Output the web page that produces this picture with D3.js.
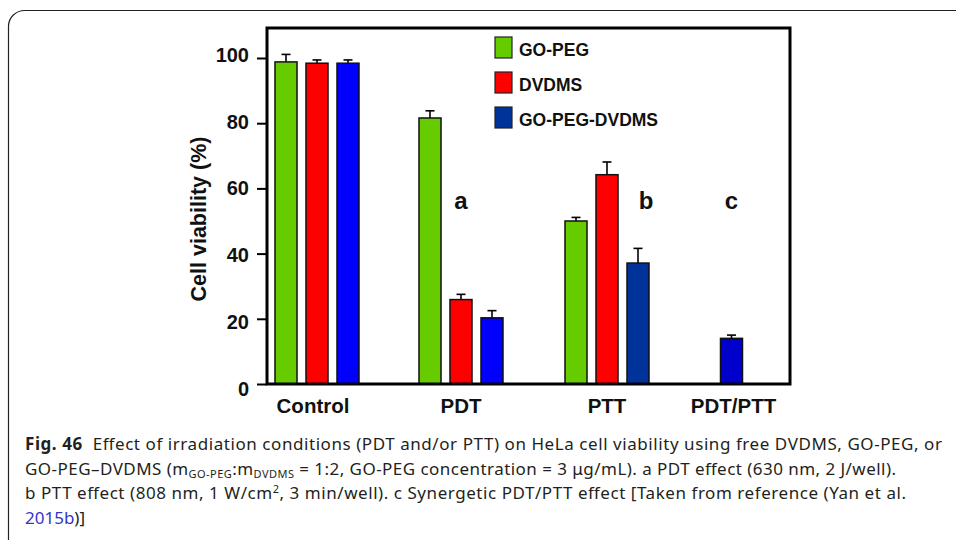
<!DOCTYPE html>
<html>
<head>
<meta charset="utf-8">
<script src="https://cdn.jsdelivr.net/npm/d3@7/dist/d3.min.js"></script>
<style>
  html, body { margin: 0; padding: 0; background: #fff; }
  svg { display: block; }
</style>
</head>
<body>
<svg id="chart" width="956" height="540"></svg>
<script>
// ---------------- data ----------------
const categories = ["Control", "PDT", "PTT", "PDT/PTT"];
const seriesNames = ["GO-PEG", "DVDMS", "GO-PEG-DVDMS"];
const goPegValues = [98.8, 81.6, 50.0, null];
const dvdmsValues = [98.4, 25.9, 64.2, null];
const goPegDvdmsValues = [98.4, 20.3, 37.1, 14.0];
const goPegErrors = [2.3, 2.2, 1.1, null];
const dvdmsErrors = [1.0, 1.6, 3.9, null];
const goPegDvdmsErrors = [1.0, 2.2, 4.5, 1.0];
const yTicks = [0, 20, 40, 60, 80, 100];
const annotationTexts = ["a", "b", "c"];
const annotationCategories = ["PDT", "PTT", "PDT/PTT"];
const yLabel = "Cell viability (%)";

// ---------------- styles ----------------
const seriesColors = ["#66cc00", "#ff0000", "#003399"];
const thirdSeriesShades = ["#0000ff", "#0000ff", "#003399", "#0000cc"];

const svg = d3.select("#chart");
const boldFont = "'Liberation Sans', Arial, sans-serif";

// frame around figure
svg.append("path")
  .attr("d", "M8.5,540 L8.5,26 A16,16 0 0 1 24.5,10.5 L956,10.5")
  .attr("fill", "none").attr("stroke", "#222").attr("stroke-width", 1.2);

const plot = { left: 267, right: 790, top: 28, bottom: 384 };

const y = d3.scaleLinear().domain([0, 109.2]).range([plot.bottom, plot.top]);
const yLab = d3.scaleLinear().domain([0, 100]).range([396, 61.7]);
const xGroup = d3.scaleOrdinal().domain(categories).range([317, 461, 607, 731.5]);
const xInner = d3.scaleBand().domain(seriesNames).range([-42, 42]).paddingInner(0.29).paddingOuter(0);

const series = [
  { name: seriesNames[0], values: goPegValues, errors: goPegErrors },
  { name: seriesNames[1], values: dvdmsValues, errors: dvdmsErrors },
  { name: seriesNames[2], values: goPegDvdmsValues, errors: goPegDvdmsErrors }
];

// bars
const bars = [];
categories.forEach((cat, ci) => {
  const present = series.filter(s => s.values[ci] != null);
  series.forEach((s, si) => {
    const v = s.values[ci];
    if (v == null) return;
    const cx = present.length === 1 ? 0 : xInner(s.name) + xInner.bandwidth() / 2;
    bars.push({
      cat, si, v, err: s.errors[ci],
      x: xGroup(cat) + cx,
      color: si === 2 ? thirdSeriesShades[ci] : seriesColors[si]
    });
  });
});

const bw = xInner.bandwidth();
const gBars = svg.append("g");
// error bars (upper only)
gBars.selectAll("line.err").data(bars).join("line")
  .attr("x1", d => d.x).attr("x2", d => d.x)
  .attr("y1", d => y(d.v)).attr("y2", d => y(d.v + d.err))
  .attr("stroke", "#000").attr("stroke-width", 1.6);
gBars.selectAll("line.cap").data(bars).join("line")
  .attr("x1", d => d.x - 4.5).attr("x2", d => d.x + 4.5)
  .attr("y1", d => y(d.v + d.err)).attr("y2", d => y(d.v + d.err))
  .attr("stroke", "#000").attr("stroke-width", 1.6);
gBars.selectAll("rect").data(bars).join("rect")
  .attr("x", d => d.x - bw / 2).attr("width", bw)
  .attr("y", d => y(d.v)).attr("height", d => y(0) - y(d.v))
  .attr("fill", d => d.color).attr("stroke", "#111").attr("stroke-width", 1.5);

// frame of plot
svg.append("rect")
  .attr("x", plot.left).attr("y", plot.top)
  .attr("width", plot.right - plot.left).attr("height", plot.bottom - plot.top)
  .attr("fill", "none").attr("stroke", "#000").attr("stroke-width", 3);

// y axis ticks
const yAxis = d3.axisLeft(y).tickValues(yTicks).tickSize(10).tickFormat("");
const gy = svg.append("g").attr("transform", `translate(${plot.left},0)`).call(yAxis);
gy.select(".domain").remove();
gy.selectAll(".tick line").attr("stroke", "#000").attr("stroke-width", 2);

svg.append("g").selectAll("text").data(yTicks).join("text")
  .attr("x", 249).attr("y", d => yLab(d))
  .attr("text-anchor", "end")
  .attr("font-family", boldFont).attr("font-weight", "bold").attr("font-size", 20)
  .attr("fill", "#111")
  .text(d => d);

// y title
svg.append("text")
  .attr("transform", "translate(206,219) rotate(-90)")
  .attr("text-anchor", "middle")
  .attr("font-family", boldFont).attr("font-weight", "bold").attr("font-size", 21.5)
  .attr("fill", "#111")
  .text(yLabel);

// category labels
svg.append("g").selectAll("text").data(categories).join("text")
  .attr("x", d => xGroup(d) + (d === "Control" ? -4 : d === "PDT/PTT" ? 2 : 0))
  .attr("y", 413)
  .attr("text-anchor", "middle")
  .attr("font-family", boldFont).attr("font-weight", "bold").attr("font-size", 20.5)
  .attr("fill", "#111")
  .text(d => d);

// annotation letters
svg.append("g").selectAll("text").data(annotationTexts).join("text")
  .attr("x", (d, i) => {
    const cat = annotationCategories[i];
    return xGroup(cat) + (d === "b" ? 39 : 0);
  })
  .attr("y", y(53.6))
  .attr("text-anchor", "middle")
  .attr("font-family", boldFont).attr("font-weight", "bold").attr("font-size", 24)
  .attr("fill", "#111")
  .text(d => d);

// legend
const legend = svg.append("g").attr("transform", "translate(495,37)");
const legendColors = seriesColors;
const lg = legend.selectAll("g").data(seriesNames).join("g")
  .attr("transform", (d, i) => `translate(0,${i * 35})`);
lg.append("rect").attr("width", 17).attr("height", 21)
  .attr("fill", (d, i) => legendColors[i]).attr("stroke", "#222").attr("stroke-width", 1.2);
lg.append("text").attr("x", 24).attr("y", 18.5)
  .attr("font-family", boldFont).attr("font-weight", "bold").attr("font-size", 17.5)
  .attr("fill", "#111")
  .text(d => d);

// caption
const capFont = "'Noto Sans', 'Open Sans', sans-serif";
const capColor = "#231f20";
const cap = svg.append("g").attr("font-family", capFont).attr("font-size", 17).attr("fill", capColor);

function fitLine(sel, target) {
  const w = sel.node().getComputedTextLength();
  sel.attr("textLength", target).attr("lengthAdjust", w > target ? "spacingAndGlyphs" : "spacing");
}

const l1 = cap.append("text").attr("x", 25).attr("y", 450);
l1.append("tspan").attr("font-weight", "bold").text("Fig. 46");
l1.append("tspan").text("\u00a0\u00a0Effect of irradiation conditions (PDT and/or PTT) on HeLa cell viability using free DVDMS, GO-PEG, or");
fitLine(l1, 942 - 25);

const l2 = cap.append("text").attr("x", 25).attr("y", 474.5);
l2.append("tspan").text("GO-PEG–DVDMS (m");
l2.append("tspan").attr("font-size", 11).attr("dy", 3).text("GO-PEG");
l2.append("tspan").attr("dy", -3).text(":m");
l2.append("tspan").attr("font-size", 11).attr("dy", 3).text("DVDMS");
l2.append("tspan").attr("dy", -3).text(" = 1:2, GO-PEG concentration = 3 μg/mL). a PDT effect (630 nm, 2 J/well).");
fitLine(l2, 896 - 25);

const l3 = cap.append("text").attr("x", 25).attr("y", 499);
l3.append("tspan").text("b PTT effect (808 nm, 1 W/cm");
l3.append("tspan").attr("font-size", 11).attr("dy", -6).text("2");
l3.append("tspan").attr("dy", 6).text(", 3 min/well). c Synergetic PDT/PTT effect [Taken from reference (Yan et al.");
fitLine(l3, 906 - 25);

const l4 = cap.append("text").attr("x", 25).attr("y", 524);
l4.append("tspan").attr("fill", "#3535c8").text("2015b");
l4.append("tspan").text(")]");
</script>
</body>
</html>
